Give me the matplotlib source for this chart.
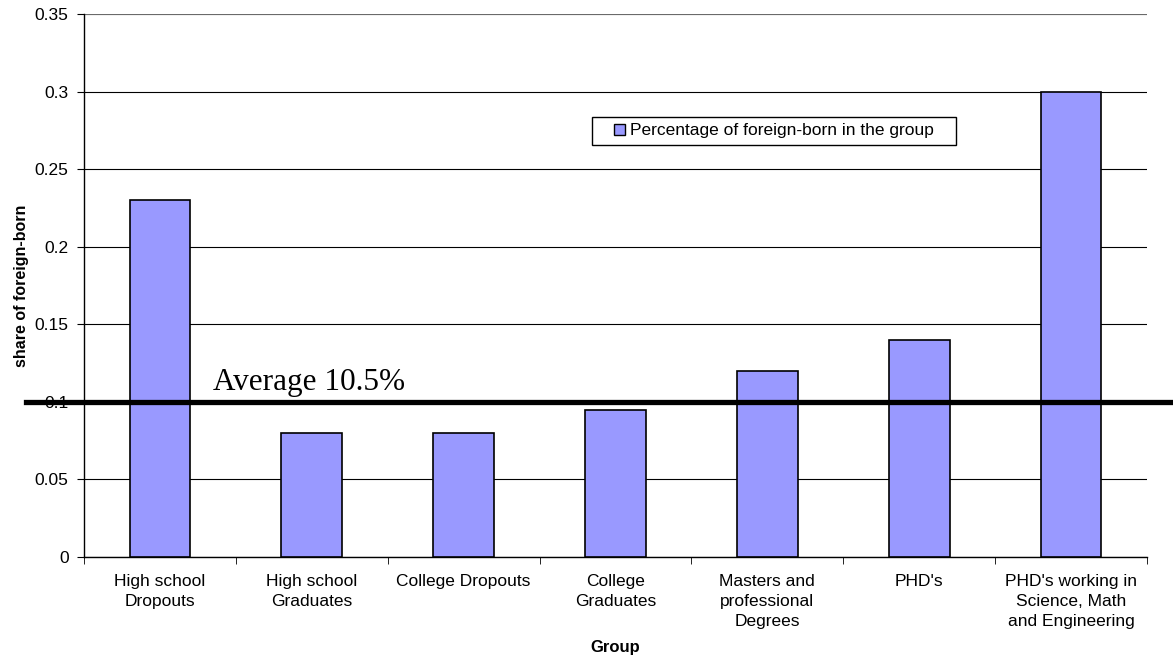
import matplotlib
matplotlib.use("Agg")
import matplotlib.pyplot as plt
from matplotlib.patches import Rectangle
import numpy as np

# data
groups = ["High school\nDropouts", "High school\nGraduates", "College Dropouts",
          "College\nGraduates", "Masters and\nprofessional\nDegrees", "PHD's",
          "PHD's working in\nScience, Math\nand Engineering"]
share = [0.23, 0.08, 0.08, 0.095, 0.12, 0.14, 0.30]
average_level = 0.1
yticks = [0, 0.05, 0.1, 0.15, 0.2, 0.25, 0.3, 0.35]
ytick_labels = ["0", "0.05", "0.1", "0.15", "0.2", "0.25", "0.3", "0.35"]

plt.rcParams['font.family'] = ['Liberation Sans', 'DejaVu Sans']

fig = plt.figure(figsize=(11.73, 6.59), dpi=100)
ax = fig.add_axes([0.0716, 0.1548, 0.9062, 0.824])

x = np.arange(len(groups))
ax.bar(x, share, width=0.4, color='#9999ff', edgecolor='black', linewidth=1.2,
       label='Percentage of foreign-born in the group', zorder=3)

ax.set_xlim(-0.5, len(groups) - 0.5)
ax.set_ylim(0, 0.35)
ax.set_yticks(yticks)
ax.set_yticklabels(ytick_labels, fontsize=12.5)
ax.yaxis.grid(True, color='black', linewidth=0.8, zorder=0)
ax.set_axisbelow(True)

# categories labelled at centres, tick marks at boundaries
ax.set_xticks(x)
ax.set_xticklabels(groups, fontsize=12.5, linespacing=1.42)
ax.tick_params(axis='x', length=0, pad=12)
ax.set_xticks(np.arange(len(groups) + 1) - 0.5, minor=True)
ax.tick_params(axis='x', which='minor', length=5, direction='out')
ax.tick_params(axis='y', length=5, direction='out', pad=6)

for side in ['top', 'right']:
    ax.spines[side].set_visible(False)
ax.spines['left'].set_linewidth(1.0)
ax.spines['bottom'].set_linewidth(1.0)
ax.axhline(0.35, color='#808080', linewidth=1.2, zorder=1)

ax.set_xlabel('Group', fontsize=12, fontweight='bold', labelpad=8)
ax.set_ylabel('share of foreign-born', fontsize=11.5, fontweight='bold', labelpad=4)

# average line spilling past the axes
ax.plot([-0.88, len(groups) - 0.33], [average_level, average_level], color='black',
        linewidth=3.8, clip_on=False, zorder=5)
ax.text(0.349, average_level + 0.003, 'Average 10.5%', fontsize=22.5,
        family=['Liberation Serif', 'DejaVu Serif'], va='bottom', ha='left', zorder=6)

# legend without its own frame; a wider box is drawn round it below
leg = ax.legend(loc='upper left', bbox_to_anchor=(0.494, 0.808), fontsize=12.5,
                frameon=False, handlelength=0.6, handleheight=0.6,
                handletextpad=0.3, borderpad=0.3, borderaxespad=0)
for h in leg.legend_handles:
    h.set_linewidth(1.0)
leg.set_zorder(7)

fig.canvas.draw()
bb = leg.get_window_extent()
pad_x, pad_y = 17, 1
(x0, y0), (x1, y1) = ax.transAxes.inverted().transform(
    [[bb.x0 - pad_x, bb.y0 - pad_y], [bb.x1 + pad_x, bb.y1 + pad_y]])
box = Rectangle((x0, y0), x1 - x0, y1 - y0, transform=ax.transAxes,
                facecolor='white', edgecolor='black', linewidth=1.0,
                zorder=4, clip_on=False)
ax.add_patch(box)

fig.savefig('out.png', dpi=100)
